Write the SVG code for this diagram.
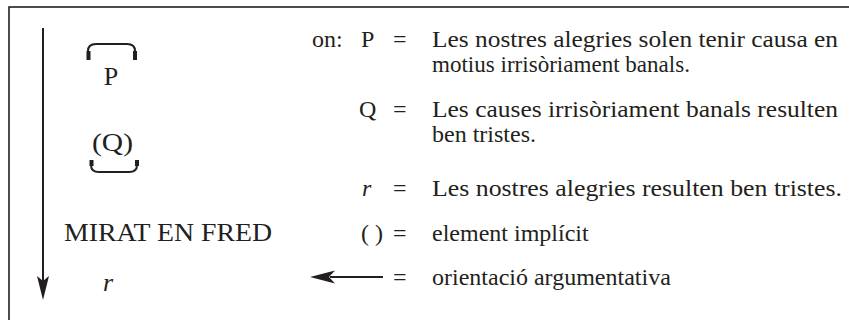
<svg xmlns="http://www.w3.org/2000/svg" width="849" height="320" viewBox="0 0 849 320">
<style>
  text { font-family: "Liberation Serif", "Times New Roman", serif; fill: #231f20; font-size: 24px; }
  .big { font-size: 26px; }
  .it { font-style: italic; }
  .ln { stroke: #231f20; fill: none; }
  .fill { fill: #231f20; }
</style>
<rect x="9" y="7" width="900" height="400" fill="#ffffff" stroke="#231f20" stroke-width="1.6"/>
<g id="connectors">
  <line class="ln" x1="43" y1="28" x2="43" y2="282" stroke-width="2"/>
  <path class="fill" d="M43,300 L37,276 L43,281 L49,276 Z"/>
</g>
<g id="node-P">
  <path class="ln" d="M88,60 L88,51 Q88,44 96,44 L127,44 Q135,44 135,51 L135,60" stroke-width="2"/>
  <rect class="fill" x="86.5" y="51" width="4" height="9"/>
  <rect class="fill" x="133" y="51" width="4" height="9"/>
  <text x="111" y="85" class="big" text-anchor="middle">P</text>
</g>
<g id="node-Q">
  <text x="92" y="151" class="big" textLength="41" lengthAdjust="spacingAndGlyphs">(Q)</text>
  <path class="ln" d="M91,160 L91,165 Q91,172 99,172 L129,172 Q137,172 137,165 L137,160" stroke-width="2"/>
  <rect class="fill" x="89.5" y="160" width="4" height="6"/>
  <rect class="fill" x="135" y="160" width="4" height="6"/>
</g>
<g id="node-mirat">
  <text x="64" y="241" class="big" textLength="208" lengthAdjust="spacingAndGlyphs">MIRAT EN FRED</text>
</g>
<g id="node-r">
  <text x="103" y="291" class="big it">r</text>
</g>
<g id="legend">
  <text x="312" y="47">on:</text>
  <text x="361" y="47">P</text>
  <text x="393" y="47">=</text>
  <text x="432" y="47" textLength="406" lengthAdjust="spacingAndGlyphs">Les nostres alegries solen tenir causa en</text>
  <text x="432" y="72" textLength="258" lengthAdjust="spacingAndGlyphs">motius irrisòriament banals.</text>
  <text x="359" y="117">Q</text>
  <text x="393" y="117">=</text>
  <text x="432" y="117" textLength="406" lengthAdjust="spacingAndGlyphs">Les causes irrisòriament banals resulten</text>
  <text x="432" y="142">ben tristes.</text>
  <text x="362" y="196" class="it">r</text>
  <text x="393" y="196">=</text>
  <text x="432" y="196" textLength="410" lengthAdjust="spacingAndGlyphs">Les nostres alegries resulten ben tristes.</text>
  <text x="361" y="241">( )</text>
  <text x="393" y="241">=</text>
  <text x="432" y="241">element implícit</text>
  <line class="ln" x1="330" y1="277" x2="383" y2="277" stroke-width="2"/>
  <path class="fill" d="M310,277 L335,270.5 L329,277 L335,283.5 Z"/>
  <text x="393" y="285">=</text>
  <text x="432" y="285">orientació argumentativa</text>
</g>
</svg>
